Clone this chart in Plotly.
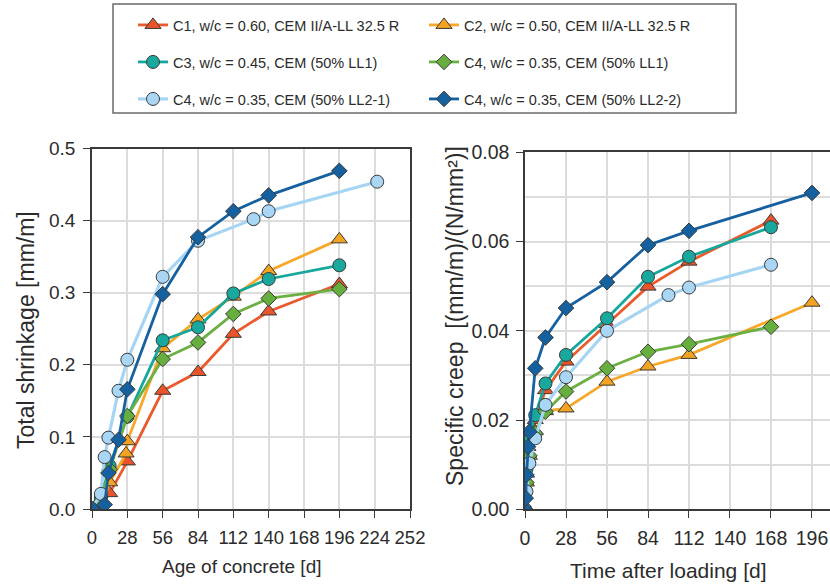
import plotly.graph_objects as go

# ---- total shrinkage vs. age of concrete [d] ----
age_c1 = [0, 7, 14, 28, 56, 84, 112, 140, 196]
shr_c1 = [0.0, 0.003, 0.022, 0.066, 0.164, 0.190, 0.243, 0.274, 0.312]

age_c2 = [0, 7, 14, 27, 28, 56, 84, 112, 140, 196]
shr_c2 = [0.0, 0.003, 0.037, 0.077, 0.094, 0.223, 0.263, 0.2945, 0.330, 0.374]

age_c3 = [0, 7, 14, 28, 56, 84, 112, 140, 196]
shr_c3 = [0.0, 0.015, 0.060, 0.128, 0.234, 0.252, 0.299, 0.319, 0.338]

age_c4_ll1 = [0, 7, 14, 28, 56, 84, 112, 140, 196]
shr_c4_ll1 = [0.0, 0.010, 0.055, 0.129, 0.208, 0.231, 0.2705, 0.292, 0.305]

age_c4_ll21 = [0, 7, 10, 13, 21, 28, 56, 84, 128, 140, 226]
shr_c4_ll21 = [0.0, 0.021, 0.072, 0.099, 0.164, 0.207, 0.322, 0.372, 0.402, 0.413, 0.454]

age_c4_ll22 = [0, 10, 13, 21, 28, 56, 84, 112, 140, 196]
shr_c4_ll22 = [0.0, 0.006, 0.050, 0.096, 0.166, 0.298, 0.377, 0.413, 0.435, 0.469]

# ---- specific creep vs. time after loading [d] ----
t_c1 = [0, 1, 2, 7, 14, 28, 56, 84, 112, 168]
cr_c1 = [0.0, 0.008, 0.014, 0.020, 0.0267, 0.0331, 0.0415, 0.0499, 0.0555, 0.0647]

t_c2 = [0, 1, 3, 7, 14, 28, 56, 84, 112, 196]
cr_c2 = [0.0, 0.006, 0.012, 0.0175, 0.0220, 0.0226, 0.0286, 0.0320, 0.0346, 0.0463]

t_c3 = [0, 1, 2, 7, 14, 28, 56, 84, 112, 168]
cr_c3 = [0.0, 0.009, 0.0155, 0.0211, 0.0282, 0.0346, 0.0428, 0.0521, 0.0566, 0.0632]

t_c4_ll1 = [0, 1, 3, 7, 14, 28, 56, 84, 112, 168]
cr_c4_ll1 = [0.0, 0.006, 0.012, 0.017, 0.0219, 0.0264, 0.0316, 0.0353, 0.0370, 0.0409]

t_c4_ll21 = [0, 1, 3, 7, 14, 28, 56, 98, 112, 168]
cr_c4_ll21 = [0.0, 0.004, 0.0103, 0.0159, 0.0234, 0.0296, 0.0400, 0.0480, 0.0497, 0.0548]

t_c4_ll22 = [0, 0.5, 1, 2, 3, 7, 14, 28, 56, 84, 112, 196]
cr_c4_ll22 = [0.0, 0.0025, 0.0077, 0.0140, 0.0174, 0.0316, 0.0385, 0.0451, 0.0509, 0.0592, 0.0624, 0.0709]

# ---- series names and styling ----
names = [
    "C1, w/c = 0.60, CEM II/A-LL 32.5 R",
    "C2, w/c = 0.50, CEM II/A-LL 32.5 R",
    "C3, w/c = 0.45, CEM (50% LL1)",
    "C4, w/c = 0.35, CEM (50% LL1)",
    "C4, w/c = 0.35, CEM (50% LL2-1)",
    "C4, w/c = 0.35, CEM (50% LL2-2)",
]
line_colors = ["#EA5A2C", "#F7A72A", "#16A79C", "#6CB044", "#A6D5F3", "#16609F"]
fill_colors = ["#E9542A", "#F4A321", "#19A89E", "#66AE3E", "#A9D6F4", "#15609E"]
symbols = ["triangle-up", "triangle-up", "circle", "diamond", "circle", "diamond"]
sizes = [14, 14, 13, 12, 13, 12]
legend_ids = ["legend", "legend", "legend2", "legend2", "legend3", "legend3"]

shrinkage = [
    (age_c1, shr_c1), (age_c2, shr_c2), (age_c3, shr_c3),
    (age_c4_ll1, shr_c4_ll1), (age_c4_ll21, shr_c4_ll21), (age_c4_ll22, shr_c4_ll22),
]
creep = [
    (t_c1, cr_c1), (t_c2, cr_c2), (t_c3, cr_c3),
    (t_c4_ll1, cr_c4_ll1), (t_c4_ll21, cr_c4_ll21), (t_c4_ll22, cr_c4_ll22),
]

FONT = "Liberation Sans, Arial, sans-serif"
TXT = "#2b2b2b"
W, H = 830, 586


def px(x):
    return x / W


def py(y):
    return 1 - y / H


fig = go.Figure()

for i in range(6):
    marker = dict(symbol=symbols[i], size=sizes[i], color=fill_colors[i],
                  line=dict(color="#3a3a3a", width=1))
    line = dict(color=line_colors[i], width=3.2 if i == 4 else 2.8)
    x, y = shrinkage[i]
    fig.add_trace(go.Scatter(x=x, y=y, mode="lines+markers", name=names[i],
                             marker=marker, line=line, legend=legend_ids[i],
                             xaxis="x", yaxis="y"))
    x, y = creep[i]
    fig.add_trace(go.Scatter(x=x, y=y, mode="lines+markers", name=names[i],
                             marker=marker, line=line, showlegend=False,
                             xaxis="x2", yaxis="y2"))

grid = "#DCDCDC"
axis_line = "#3a3a3a"
common = dict(showgrid=True, gridcolor=grid, gridwidth=1.5, showline=True,
              linecolor=axis_line, linewidth=1.5, ticks="outside", ticklen=7,
              tickcolor=axis_line, tickwidth=1.2, zeroline=False, automargin=False)

day_ticks = [0, 28, 56, 84, 112, 140, 168, 196, 224, 252]

fig.update_layout(
    width=W, height=H,
    margin=dict(l=0, r=0, t=0, b=0, autoexpand=False),
    paper_bgcolor="white", plot_bgcolor="white",
    font=dict(family=FONT, color=TXT),
    xaxis=dict(domain=[px(92), px(410)], range=[0, 252], tickvals=day_ticks,
               mirror=True, anchor="y", ticklabelstandoff=4,
               tickfont=dict(family=FONT, size=18.5, color=TXT), **common),
    yaxis=dict(domain=[py(509), py(148.5)], range=[0, 0.5], dtick=0.1,
               tickformat=".1f", mirror=True, anchor="x", ticklabelstandoff=4,
               tickfont=dict(family=FONT, size=19, color=TXT), **common),
    xaxis2=dict(domain=[px(525), 1.0], range=[0, 208.3], tickvals=day_ticks[:8],
                mirror=True, anchor="y2", ticklabelstandoff=4,
                tickfont=dict(family=FONT, size=19.5, color=TXT), **common),
    yaxis2=dict(domain=[py(509.3), py(152.3)], range=[0, 0.08], dtick=0.02,
                tickformat=".2f", mirror=False, anchor="x2", ticklabelstandoff=3,
                tickfont=dict(family=FONT, size=19.5, color=TXT),
                minor=dict(dtick=0.01, showgrid=True, gridcolor=grid, gridwidth=1.5),
                **common),
    showlegend=True,
)

# three legend rows, two entries each
for lid, yc in zip(["legend", "legend2", "legend3"], [25, 62, 99]):
    fig.update_layout({lid: dict(
        orientation="h", xref="container", yref="container",
        x=px(133), y=py(yc), xanchor="left", yanchor="middle",
        entrywidth=246, entrywidthmode="pixels", itemwidth=30,
        font=dict(family=FONT, size=14.5, color=TXT),
        bgcolor="rgba(0,0,0,0)", borderwidth=0, traceorder="normal",
    )})

# legend frame
fig.add_shape(type="rect", xref="paper", yref="paper",
              x0=px(113), x1=px(736), y0=py(113), y1=py(4),
              line=dict(color="#6a6a6a", width=1.5), fillcolor="rgba(0,0,0,0)")

# axis titles
title_font = dict(family=FONT, color=TXT)
titles = [
    ("Total shrinkage [mm/m]", 26, 330, -90, 23),
    ("Age of concrete [d]", 242, 566, 0, 19),
    ("Specific creep  [(mm/m)/(N/mm²)]", 455, 316, -90, 23),
    ("Time after loading [d]", 668, 570, 0, 21),
]
for text, xc, yc, angle, size in titles:
    fig.add_annotation(text=text, x=px(xc), y=py(yc), xref="paper", yref="paper",
                       xanchor="center", yanchor="middle", textangle=angle,
                       showarrow=False, font=dict(size=size, **title_font))

fig.write_html("out.html")
